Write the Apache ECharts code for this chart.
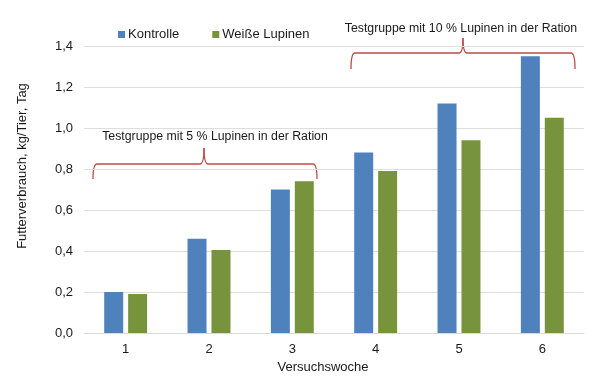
<!DOCTYPE html>
<html>
<head>
<meta charset="utf-8">
<script src="https://cdn.jsdelivr.net/npm/echarts@6/dist/echarts.min.js"></script>
<style>
html,body{margin:0;padding:0;background:#fff;}
#c{width:600px;height:388px;}
</style>
</head>
<body>
<div id="c"></div>
<script>
var categories = ['1', '2', '3', '4', '5', '6'];
var kontrolle = [0.20, 0.46, 0.70, 0.88, 1.12, 1.35];
var lupinen = [0.19, 0.405, 0.74, 0.79, 0.94, 1.05];
var seriesNames = ['Kontrolle', 'Weiße Lupinen'];
var yTicks = { min: 0, max: 1.4, interval: 0.2 };
var annotations = ['Testgruppe mit 5 % Lupinen in der Ration', 'Testgruppe mit 10 % Lupinen in der Ration'];

var FONT = '"Liberation Sans", Arial, sans-serif';
var TXT = '#1a1a1a';
var BRACE = '#be4b48';

function brace(x1, x2, xm, yh, yb, yp) {
  var re = 4, rp = 4;
  var st = { stroke: BRACE, lineWidth: 1.3, fill: null };
  function q(ax, ay, cx, cy, bx, by) {
    return { type: 'bezierCurve', silent: true, shape: { x1: ax, y1: ay, cpx1: cx, cpy1: cy, x2: bx, y2: by }, style: st };
  }
  function l(ax, ay, bx, by) {
    return { type: 'line', silent: true, shape: { x1: ax, y1: ay, x2: bx, y2: by }, style: st };
  }
  return [
    q(x1, yb, x1, yh, x1 + re, yh),
    l(x1 + re, yh, xm - rp, yh),
    q(xm - rp, yh, xm, yh, xm, yp),
    q(xm, yp, xm, yh, xm + rp, yh),
    l(xm + rp, yh, x2 - re, yh),
    q(x2 - re, yh, x2, yh, x2, yb)
  ];
}

var graphics = [
  { type: 'text', x: 22, y: 166, rotation: Math.PI / 2,
    style: { text: 'Futterverbrauch, kg/Tier, Tag', font: '13px ' + FONT, fill: TXT, textAlign: 'center', textVerticalAlign: 'middle' } },
  { type: 'text', x: 323, y: 367,
    style: { text: 'Versuchswoche', font: '13px ' + FONT, fill: TXT, textAlign: 'center', textVerticalAlign: 'middle' } },
  { type: 'text', x: 215, y: 137,
    style: { text: annotations[0], font: '12.3px ' + FONT, fill: TXT, textAlign: 'center', textVerticalAlign: 'middle' } },
  { type: 'text', x: 461, y: 29,
    style: { text: annotations[1], font: '12.3px ' + FONT, fill: TXT, textAlign: 'center', textVerticalAlign: 'middle' } }
].concat(brace(93, 317, 204, 164, 179, 148)).concat(brace(351, 575, 463, 53, 69, 38));

var chart = echarts.init(document.getElementById('c'), null, { renderer: 'canvas' });
chart.setOption({
  animation: false,
  backgroundColor: '#fff',
  textStyle: { fontFamily: FONT },
  grid: { left: 84, right: 16, top: 46, bottom: 55 },
  legend: {
    left: 113, top: 23,
    icon: 'rect', itemWidth: 7, itemHeight: 7, itemGap: 33,
    textStyle: { fontFamily: FONT, fontSize: 13, color: TXT, padding: [0, 0, 0, -2] },
    data: seriesNames
  },
  xAxis: {
    type: 'category',
    data: categories,
    axisLine: { lineStyle: { color: '#d9d9d9' } },
    axisTick: { show: false },
    axisLabel: { fontFamily: FONT, fontSize: 13, color: TXT, margin: 10 }
  },
  yAxis: {
    type: 'value',
    min: yTicks.min, max: yTicks.max, interval: yTicks.interval,
    axisLine: { show: false },
    axisTick: { show: false },
    splitLine: { lineStyle: { color: '#dedede' } },
    axisLabel: {
      fontFamily: FONT, fontSize: 13, color: TXT, margin: 11,
      formatter: function (v) { return v.toFixed(1).replace('.', ','); }
    }
  },
  series: [
    { name: seriesNames[0], type: 'bar', data: kontrolle, barWidth: 19, barGap: '26%', itemStyle: { color: '#4f81bd' } },
    { name: seriesNames[1], type: 'bar', data: lupinen, barWidth: 19, barGap: '26%', itemStyle: { color: '#77933c' } }
  ],
  graphic: graphics
});
</script>
</body>
</html>
